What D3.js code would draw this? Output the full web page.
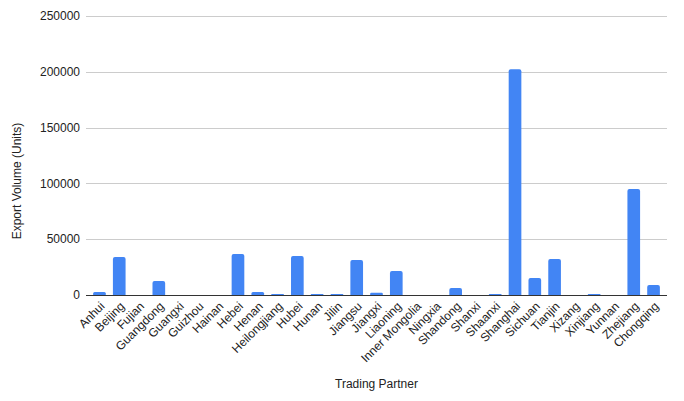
<!DOCTYPE html>
<html>
<head>
<meta charset="utf-8">
<script src="https://cdn.jsdelivr.net/npm/d3@7"></script>
<style>
  body { margin: 0; background: #fff; }
  text { font-family: Arial, "Liberation Sans", sans-serif; }
</style>
</head>
<body>
<div id="chart"></div>
<script>
// provinces, in the order shown on the x axis
var partners = ['Anhui','Beijing','Fujian','Guangdong','Guangxi','Guizhou','Hainan','Hebei','Henan','Heilongjiang',
    'Hubei','Hunan','Jilin','Jiangsu','Jiangxi','Liaoning','Inner Mongolia','Ningxia','Shandong','Shanxi',
    'Shaanxi','Shanghai','Sichuan','Tianjin','Xizang','Xinjiang','Yunnan','Zhejiang','Chongqing'];
// export volume (units)
var exportVolume = [2700, 34000, 0, 12500, 0, 0, 0, 36700, 2700, 1000,
    35000, 1000, 1000, 31400, 2000, 21500, 0, 0, 6300, 0,
    1000, 202300, 15200, 32300, 0, 1000, 0, 95000, 9000];
var yTicks = [0, 50000, 100000, 150000, 200000, 250000];

const width = 684;
const height = 401;
const plotLeft = 86, plotRight = 667, plotTop = 16, plotBottom = 295;

const svg = d3.select('#chart').append('svg').attr('width', width).attr('height', height);

const x = d3.scaleBand()
    .domain(partners)
    .range([plotLeft, plotRight])
    .paddingInner(0.36)
    .paddingOuter(0.36);

const y = d3.scaleLinear()
    .domain([0, 250000])
    .range([plotBottom, plotTop]);

// gridlines + y labels
const grid = svg.append('g');
grid.selectAll('line')
    .data(yTicks.filter(d => d > 0))
    .enter()
    .append('line')
    .attr('x1', plotLeft).attr('x2', plotRight)
    .attr('y1', d => Math.round(y(d)) + 0.5)
    .attr('y2', d => Math.round(y(d)) + 0.5)
    .attr('stroke', '#cccccc')
    .attr('stroke-width', 1);

grid.selectAll('text')
    .data(yTicks)
    .enter()
    .append('text')
    .attr('x', plotLeft - 6)
    .attr('y', d => y(d))
    .attr('dy', '0.35em')
    .attr('text-anchor', 'end')
    .attr('font-size', 12)
    .attr('fill', '#222')
    .text(d => d);

// bars with slightly rounded tops
function barPath(d, i) {
    const x0 = x(partners[i]);
    const w = x.bandwidth();
    const y0 = y(0);
    const y1 = y(d);
    const h = y0 - y1;
    if (h <= 0) return '';
    const r = Math.min(2, h / 2, w / 2);
    return `M${x0},${y0} V${y1 + r} Q${x0},${y1} ${x0 + r},${y1} H${x0 + w - r} Q${x0 + w},${y1} ${x0 + w},${y1 + r} V${y0} Z`;
}

svg.append('g')
    .selectAll('path')
    .data(exportVolume)
    .enter()
    .append('path')
    .attr('d', (d, i) => barPath(d, i))
    .attr('fill', '#4285f4');

// baseline
svg.append('line')
    .attr('x1', plotLeft).attr('x2', plotRight)
    .attr('y1', y(0) + 0.5).attr('y2', y(0) + 0.5)
    .attr('stroke', '#333333')
    .attr('stroke-width', 1);

// x labels, rotated
svg.append('g')
    .selectAll('text')
    .data(partners)
    .enter()
    .append('text')
    .attr('transform', d => `translate(${x(d) + x.bandwidth() / 2 + 3},${plotBottom + 9}) rotate(-45)`)
    .attr('text-anchor', 'end')
    .attr('dy', '0.35em')
    .attr('font-size', 12)
    .attr('fill', '#222')
    .text(d => d);

// axis titles
svg.append('text')
    .attr('x', (plotLeft + plotRight) / 2)
    .attr('y', 388)
    .attr('text-anchor', 'middle')
    .attr('font-size', 12)
    .attr('fill', '#222')
    .text('Trading Partner');

svg.append('text')
    .attr('transform', 'translate(21,181) rotate(-90)')
    .attr('text-anchor', 'middle')
    .attr('font-size', 12)
    .attr('fill', '#222')
    .text('Export Volume (Units)');
</script>
</body>
</html>
